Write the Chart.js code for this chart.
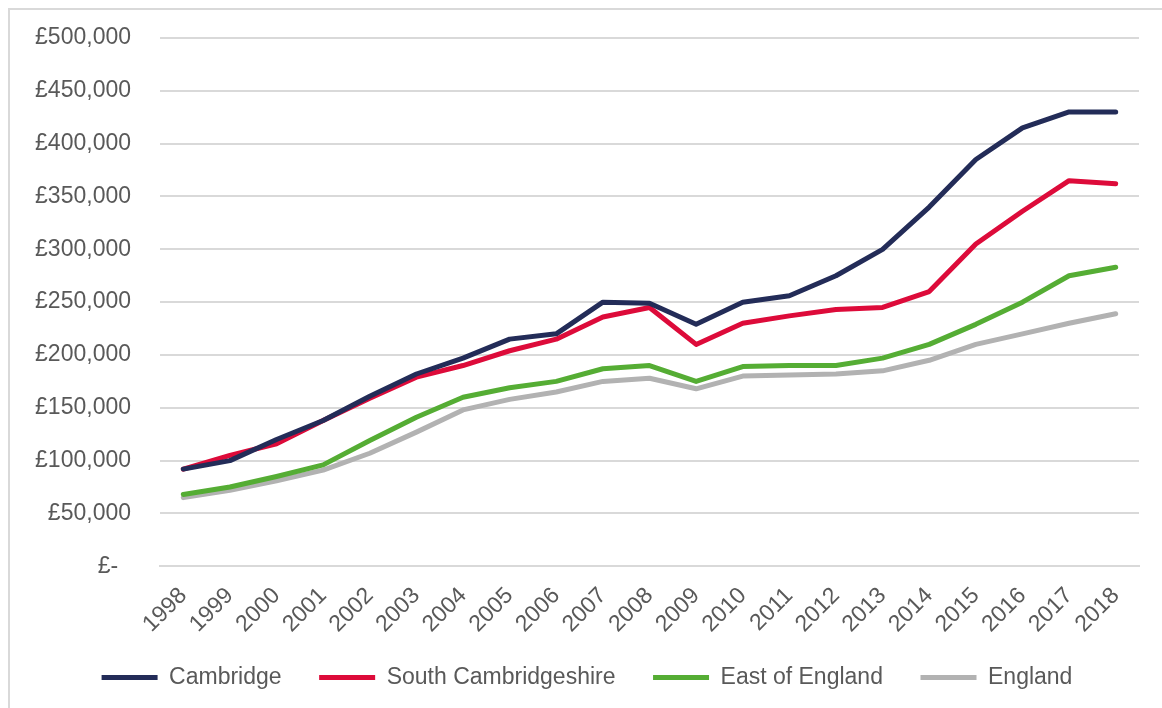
<!DOCTYPE html>
<html>
<head>
<meta charset="utf-8">
<script src="https://cdn.jsdelivr.net/npm/chart.js@4.4.0/dist/chart.umd.min.js"></script>
<style>
  html, body { margin: 0; padding: 0; background: #fff; }
  #frame { position: absolute; left: 8px; top: 8px; width: 1162px; height: 708px;
           border-left: 2px solid #d9d9d9; border-top: 2px solid #d9d9d9; }
  #wrap { position: absolute; left: 0; top: 0; width: 1162px; height: 708px; }
</style>
</head>
<body>
<div id="frame"></div>
<div id="wrap"><canvas id="chart"></canvas></div>
<script>
const years = ['1998','1999','2000','2001','2002','2003','2004','2005','2006','2007',
               '2008','2009','2010','2011','2012','2013','2014','2015','2016','2017','2018'];

const cambridge = [92000, 100000, 120000, 138000, 161000, 182000, 197000, 215000, 220000, 250000,
                   249000, 229000, 250000, 256000, 275000, 300000, 340000, 385000, 415000, 430000, 430000];
const southCambs = [92000, 105000, 116000, 138000, 159000, 179000, 190000, 204000, 215000, 236000,
                    245000, 210000, 230000, 237000, 243000, 245000, 260000, 305000, 336000, 365000, 362000];
const eastOfEngland = [68000, 75000, 85000, 96000, 119000, 141000, 160000, 169000, 175000, 187000,
                       190000, 175000, 189000, 190000, 190000, 197000, 210000, 229000, 250000, 275000, 283000];
const england = [65000, 72000, 81000, 91000, 107000, 127000, 148000, 158000, 165000, 175000,
                 178000, 168000, 180000, 181000, 182000, 185000, 195000, 210000, 220000, 230000, 239000];

const seriesNames = ['Cambridge', 'South Cambridgeshire', 'East of England', 'England'];
const seriesColours = ['#232c58', '#dd0b3a', '#55ad34', '#b2b2b2'];

const textColour = '#595959';
const font = { family: '"Liberation Sans", Arial, sans-serif', size: 23 };

function makeSet(i, data) {
  return {
    label: seriesNames[i],
    data: data,
    borderColor: seriesColours[i],
    backgroundColor: seriesColours[i],
    borderWidth: 5,
    borderCapStyle: 'round',
    borderJoinStyle: 'round',
    pointRadius: 0,
    tension: 0,
    fill: false
  };
}

new Chart(document.getElementById('chart'), {
  type: 'line',
  data: {
    labels: years,
    datasets: [
      makeSet(0, cambridge),
      makeSet(1, southCambs),
      makeSet(2, eastOfEngland),
      makeSet(3, england)
    ]
  },
  options: {
    responsive: true,
    maintainAspectRatio: false,
    animation: false,
    layout: { padding: { left: 35, right: 23, top: 38, bottom: 9 } },
    plugins: {
      tooltip: { enabled: false },
      legend: {
        position: 'bottom',
        labels: {
          color: textColour,
          font: font,
          boxWidth: 56,
          boxHeight: 5,
          padding: 12,
          useBorderRadius: true,
          borderRadius: 2.5,
          // trailing spaces widen the gap between legend entries
          generateLabels: chart => chart.data.datasets.map((ds, i) => ({
            text: i < chart.data.datasets.length - 1 ? ds.label + '    ' : ds.label,
            fillStyle: ds.borderColor,
            strokeStyle: ds.borderColor,
            lineWidth: 0,
            fontColor: textColour,
            datasetIndex: i
          }))
        }
      }
    },
    scales: {
      x: {
        offset: true,
        grid: { display: false, drawTicks: false },
        border: { display: true, color: '#d9d9d9', width: 2 },
        ticks: {
          color: textColour,
          font: font,
          autoSkip: false,
          maxRotation: 45,
          minRotation: 45,
          padding: 16
        },
        afterFit: scale => { scale.paddingLeft = 0; }
      },
      y: {
        min: 0,
        max: 500000,
        grid: { color: '#d9d9d9', lineWidth: 2, drawTicks: false },
        border: { display: false },
        ticks: {
          stepSize: 50000,
          color: textColour,
          font: font,
          padding: 29,
          callback: v => v === 0 ? '£-  ' : '£' + v.toLocaleString('en-GB')
        },
        afterFit: scale => {
          scale.width = 125;
          scale.paddingTop = 0;
          scale.paddingBottom = 0;
        }
      }
    }
  }
});
</script>
</body>
</html>
